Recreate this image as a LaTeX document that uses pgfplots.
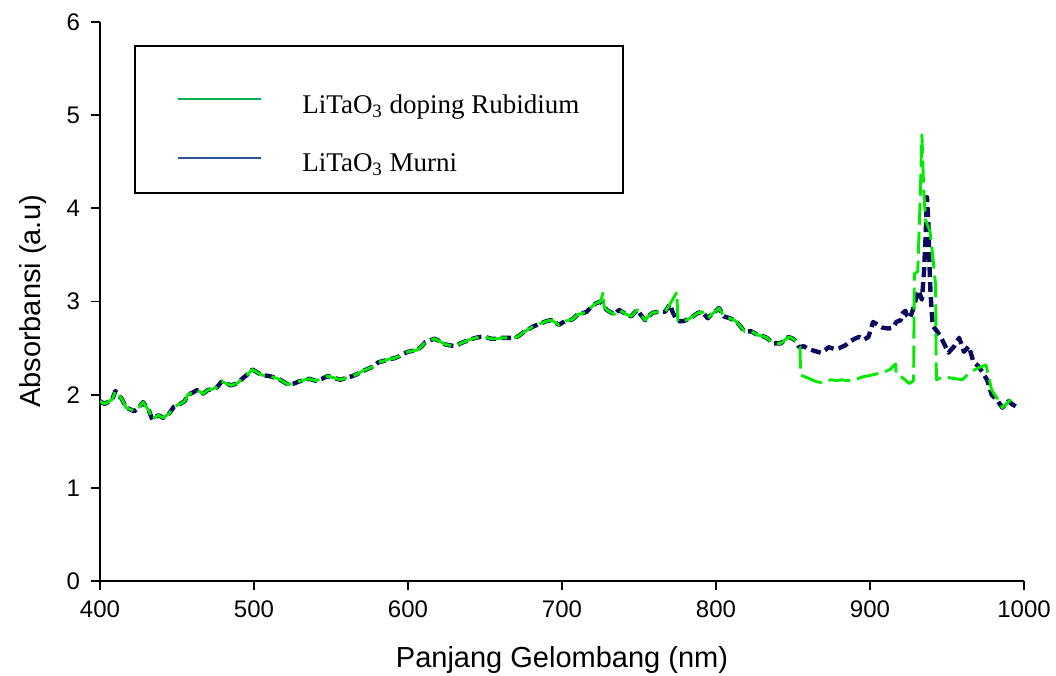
\documentclass[border=0pt]{standalone}
\usepackage{fontspec}
\setmainfont{Liberation Sans}
\newfontfamily\seriffont{Liberation Serif}
\usepackage{pgfplots}
\pgfplotsset{compat=1.18}
\usepackage{pgfplotstable}
\definecolor{rbgreen}{RGB}{0,235,0}
\definecolor{murniblue}{RGB}{12,12,92}
\definecolor{leggreen}{RGB}{0,176,80}
\definecolor{legblue}{RGB}{47,85,151}

\pgfplotstableread{
x y
400 1.93
403 1.90
405 1.92
408 1.95
410 2.04
412 1.99
414 1.96
417 1.86
420 1.84
422 1.82
425 1.86
428 1.92
430 1.87
432 1.82
434 1.73
436 1.76
438 1.78
441 1.75
445 1.80
448 1.87
452 1.90
455 1.93
457 2.00
460 2.02
463 2.05
467 2.01
470 2.05
473 2.06
476 2.08
479 2.14
482 2.12
485 2.10
489 2.12
493 2.18
496 2.22
499 2.27
502 2.24
505 2.21
510 2.20
514 2.18
517 2.16
520 2.13
522 2.11
526 2.12
529 2.14
533 2.16
536 2.17
540 2.15
544 2.17
548 2.20
552 2.18
556 2.16
560 2.18
564 2.20
567 2.22
570 2.25
573 2.27
577 2.30
581 2.35
584 2.36
587 2.38
591 2.39
594 2.41
597 2.44
600 2.46
603 2.47
606 2.48
609 2.52
611 2.56
614 2.58
617 2.60
620 2.58
624 2.54
627 2.53
631 2.52
634 2.55
637 2.57
640 2.59
644 2.61
647 2.62
650 2.62
654 2.60
658 2.60
661 2.61
665 2.61
669 2.61
672 2.63
675 2.67
678 2.70
681 2.73
684 2.75
687 2.77
690 2.79
693 2.80
696 2.77
698 2.75
700 2.77
702 2.79
705 2.80
707 2.81
710 2.86
713 2.87
716 2.89
719 2.94
722 2.98
725 3.00
729 2.91
731 2.89
734 2.86
737 2.91
740 2.88
742 2.86
745 2.84
747 2.88
749 2.91
751 2.86
754 2.80
756 2.84
759 2.88
763 2.89
767 2.89
770 2.97
772 2.88
775 2.79
779 2.79
782 2.81
785 2.84
788 2.875
791 2.89
794.6 2.82
798 2.875
800 2.90
802 2.93
805 2.84
809 2.82
813 2.79
816 2.73
818.5 2.68
823 2.68
827 2.64
830 2.63
833 2.61
837 2.55
842 2.55
845 2.59
847 2.62
850 2.60
852 2.57
854 2.51
857 2.52
860 2.49
864 2.47
868 2.45
871 2.48
873 2.51
877 2.49
880 2.50
884 2.53
887 2.57
890 2.60
893 2.62
896 2.59
899 2.62
902 2.78
905 2.75
908 2.72
912 2.71
915 2.72
917 2.78
920 2.80
921 2.87
923 2.90
924 2.85
926 2.82
928 2.92
929 2.98
931.5 3.12
933.7 3.02
935 3.30
936 3.66
937 4.12
938 3.80
938.5 3.45
939.3 3.09
940.7 2.74
943.5 2.68
946 2.62
948 2.55
951 2.45
954.7 2.52
957.9 2.61
961 2.46
964.2 2.52
967 2.36
970.6 2.30
973 2.24
976 2.16
979 2.00
982.6 1.94
986 1.86
990 1.93
992 1.90
994.6 1.875
}\murni

\pgfplotstableread{
x y
400 1.93
403 1.90
405 1.92
408 1.95
410 2.04
412 1.99
414 1.96
417 1.86
420 1.84
422 1.82
425 1.86
428 1.92
430 1.87
432 1.82
434 1.73
436 1.76
438 1.78
441 1.75
445 1.80
448 1.87
452 1.90
455 1.93
457 2.00
460 2.02
463 2.05
467 2.01
470 2.05
473 2.06
476 2.08
479 2.14
482 2.12
485 2.10
489 2.12
493 2.18
496 2.22
499 2.27
502 2.24
505 2.21
510 2.20
514 2.18
517 2.16
520 2.13
522 2.11
526 2.12
529 2.14
533 2.16
536 2.17
540 2.15
544 2.17
548 2.20
552 2.18
556 2.16
560 2.18
564 2.20
567 2.22
570 2.25
573 2.27
577 2.30
581 2.35
584 2.36
587 2.38
591 2.39
594 2.41
597 2.44
600 2.46
603 2.47
606 2.48
609 2.52
611 2.56
614 2.58
617 2.60
620 2.58
624 2.54
627 2.53
631 2.52
634 2.55
637 2.57
640 2.59
644 2.61
647 2.62
650 2.62
654 2.60
658 2.60
661 2.61
665 2.61
669 2.61
672 2.63
675 2.67
678 2.70
681 2.73
684 2.75
687 2.77
690 2.79
693 2.80
696 2.77
698 2.75
700 2.77
702 2.79
705 2.80
707 2.81
710 2.86
713 2.87
716 2.89
719 2.94
722 2.98
725 3.00
726.8 3.10
727.2 2.95
729 2.91
731 2.89
734 2.86
737 2.91
740 2.88
742 2.86
745 2.84
747 2.88
749 2.91
751 2.86
754 2.80
756 2.84
759 2.88
763 2.89
767 2.89
770 2.97
774.6 3.10
775.2 2.79
779 2.79
782 2.81
785 2.84
788 2.875
791 2.89
794.6 2.82
798 2.875
800 2.90
802 2.93
805 2.84
809 2.82
813 2.79
816 2.73
818.5 2.68
823 2.68
827 2.64
830 2.63
833 2.61
837 2.55
842 2.55
845 2.59
847 2.62
850 2.60
852 2.57
854.5 2.51
855 2.21
858 2.19
861 2.17
865 2.14
868.5 2.13
872 2.15
875 2.16
878 2.15
881.5 2.16
885 2.15
890 2.16
895 2.19
901 2.21
906 2.23
910 2.25
913 2.27
916.6 2.33
917.0 2.22
919 2.21
922 2.17
925.5 2.12
928.3 2.15
928.8 3.30
931 3.32
932.6 4.12
933.7 4.79
934.8 4.23
936 3.88
939 3.75
941 3.45
942.6 3.17
942.9 2.40
943.2 2.16
946 2.18
949 2.19
952 2.18
956 2.17
960 2.16
963 2.21
966 2.25
970.7 2.29
975.3 2.32
977 2.20
979 2.05
982.6 1.96
986 1.86
988.5 1.90
991.5 1.95
}\rubidium

\begin{document}
\begin{tikzpicture}
\begin{axis}[
  scale only axis,
  width=462pt, height=279.5pt,
  xmin=400, xmax=1000, ymin=0, ymax=6,
  xtick={400,500,...,1000}, ytick={0,1,...,6},
  axis lines=left,
  axis line style={-, line width=0.9pt, black},
  tick style={line width=0.9pt, black},
  tick align=outside,
  major tick length=4.5pt,
  /pgf/number format/assume math mode=true,
  /pgf/number format/1000 sep={},
  ticklabel style={font=\fontsize{12}{14}\selectfont},
  xticklabel style={yshift=-2pt},
  yticklabel style={xshift=-2pt},
  xlabel={Panjang Gelombang (nm)},
  ylabel={Absorbansi (a.u)},
  label style={font=\fontsize{14.5}{16}\selectfont},
  xlabel style={at={(axis description cs:0.5,-0.1413)}, anchor=center},
  ylabel style={at={(axis description cs:-0.072,0.5)}, anchor=center},
  legend style={at={(axis cs:450,5.27)}, anchor=north west, draw=none, fill=none,
    inner sep=0pt, row sep=14.5pt, font=\seriffont\fontsize{13.5}{15}\selectfont,
    /tikz/every odd column/.append style={column sep=18pt}},
  legend cell align=left,
  legend image code/.code={\draw[#1] (0pt,3pt) -- (41.5pt,3pt);},
]
\addlegendimage{leggreen, line width=1pt, solid}
\addlegendentry{LiTaO\textsubscript{3} doping Rubidium}
\addlegendimage{legblue, line width=1pt, solid}
\addlegendentry{LiTaO\textsubscript{3} Murni}
\addplot[forget plot, murniblue, line width=2.2pt, line join=round, dash pattern=on 5pt off 2.5pt] table[x=x,y=y] {\murni};
\addplot[forget plot, rbgreen, line width=1.45pt, line join=round, dash pattern=on 11pt off 3.5pt] table[x=x,y=y] {\rubidium};
\draw[line width=1pt, black] (axis cs:422.7,4.164) rectangle (axis cs:739.6,5.742);
\end{axis}
\pgfresetboundingbox
\path ([xshift=-50pt,yshift=-47.5pt]current axis.south west) rectangle ([xshift=16pt,yshift=11pt]current axis.north east);
\end{tikzpicture}
\end{document}
